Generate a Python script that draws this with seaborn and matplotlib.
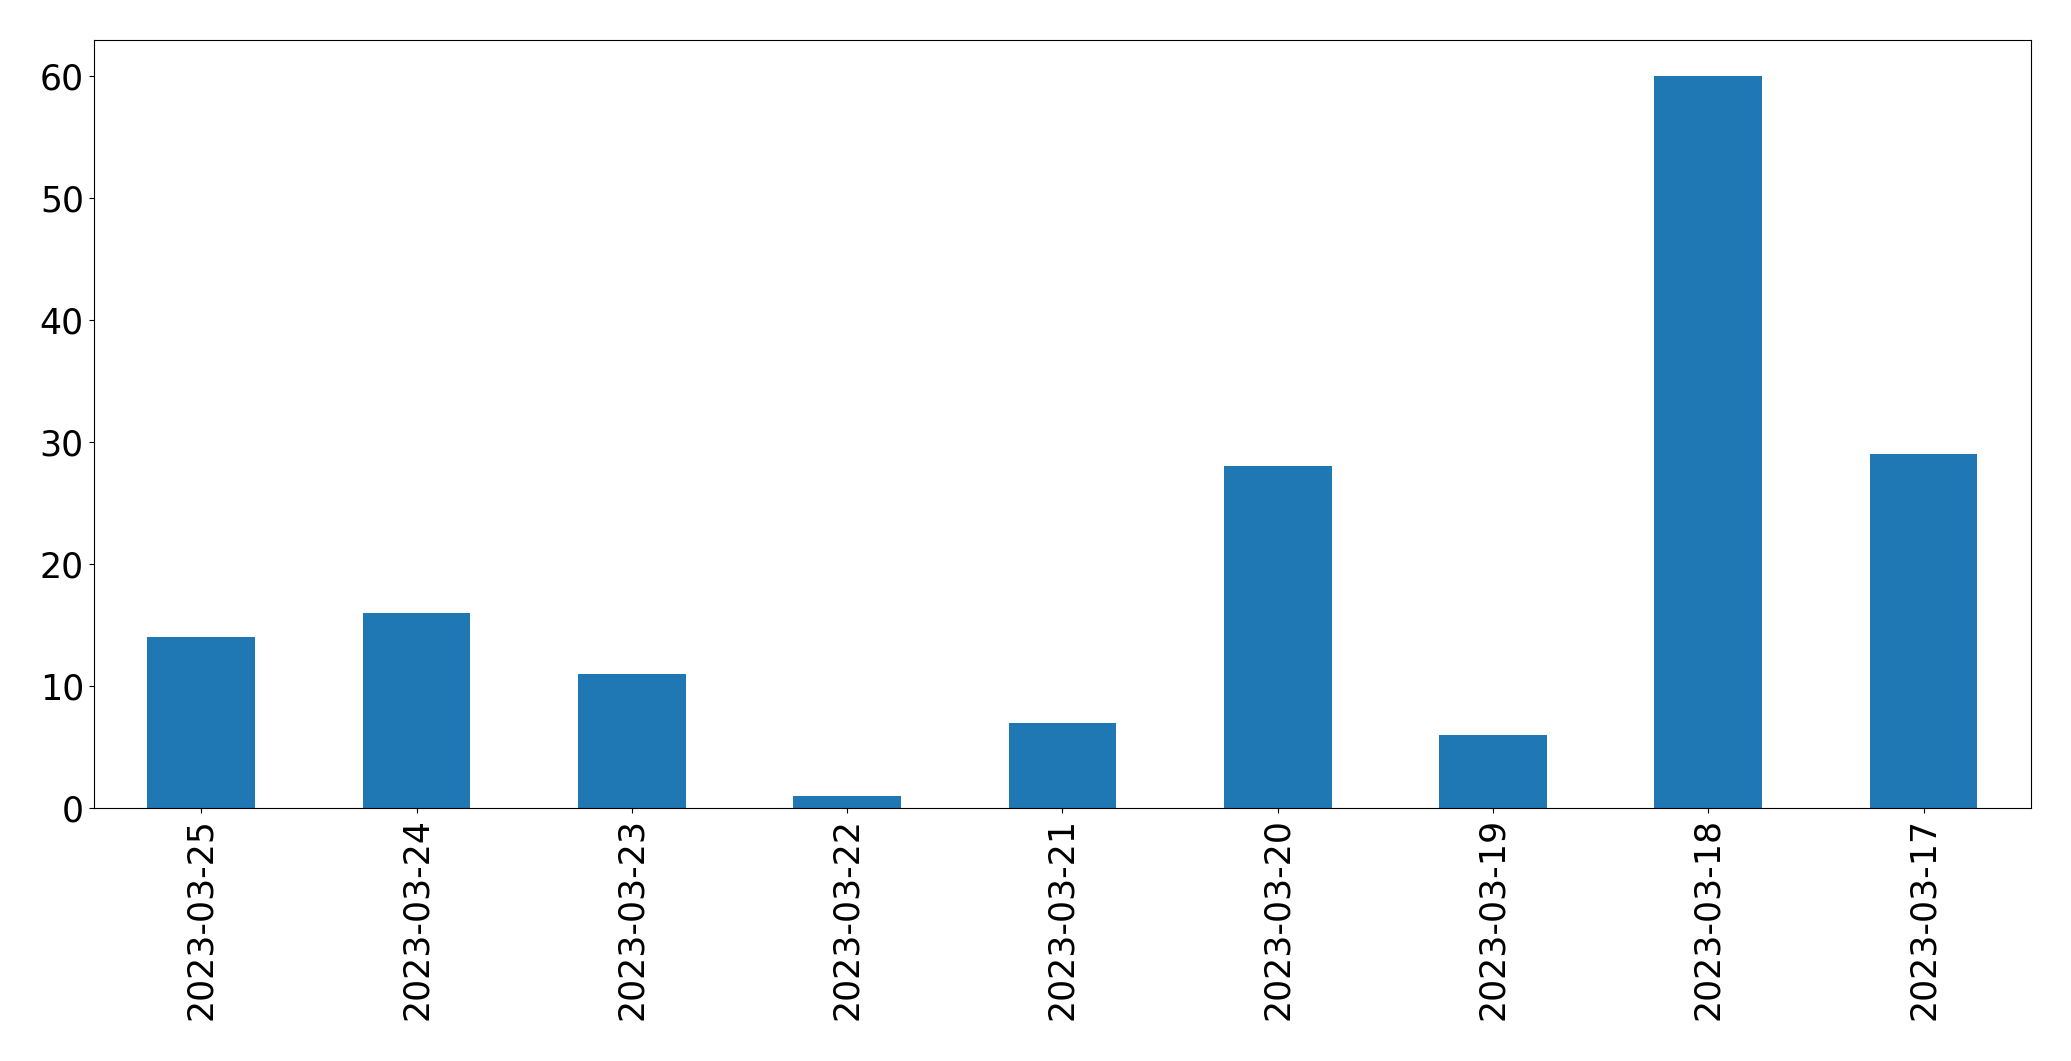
import matplotlib
matplotlib.use("Agg")
import matplotlib.pyplot as plt
import seaborn as sns
import pandas as pd

# values
dates = ["2023-03-25", "2023-03-24", "2023-03-23", "2023-03-22", "2023-03-21",
         "2023-03-20", "2023-03-19", "2023-03-18", "2023-03-17"]
counts = [14, 16, 11, 1, 7, 28, 6, 60, 29]

df = pd.DataFrame({"date": dates, "count": counts})

fig = plt.figure(figsize=(20.71, 10.61), dpi=100)
ax = fig.add_axes([0.0452, 0.2385, 0.9356, 0.7242])

sns.barplot(data=df, x="date", y="count", order=dates, color="#1f77b4",
            saturation=1, width=0.5, linewidth=0, ax=ax)

ax.set_xlim(-0.5, len(dates) - 0.5)
ax.set_ylim(0, max(counts) * 1.05)
ax.set_xlabel("")
ax.set_ylabel("")
ax.tick_params(axis="both", labelsize=25)
plt.setp(ax.get_xticklabels(), rotation=90)

fig.savefig("out.png", dpi=100)
